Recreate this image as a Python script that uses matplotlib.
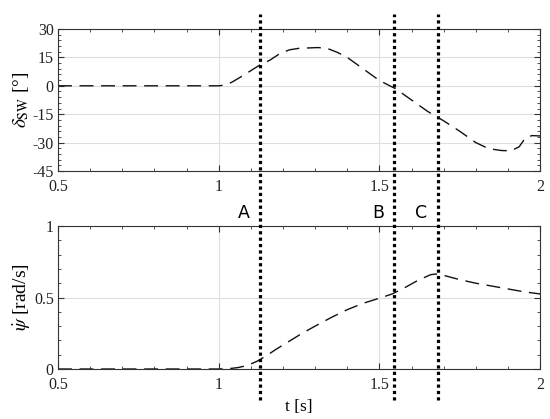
import matplotlib.pyplot as plt
import numpy as np
from matplotlib.ticker import MultipleLocator

# steering wheel angle [deg]
t_sw = [0.5, 1.0, 1.02, 1.04, 1.07, 1.10, 1.13, 1.16, 1.19, 1.22, 1.25, 1.28, 1.31, 1.34,
        1.37, 1.40, 1.45, 1.50, 1.55, 1.60, 1.65, 1.70, 1.75, 1.80, 1.84, 1.88, 1.91,
        1.935, 1.955, 1.975, 2.0]
d_sw = [0, 0, 0.4, 1.8, 4.8, 8.0, 11.2, 13.6, 17.0, 19.0, 19.8, 20.0, 20.2, 19.6,
        17.6, 15.0, 8.9, 2.8, -1.5, -7.5, -13.5, -18.5, -24.0, -30.0, -33.2, -34.2, -34.3,
        -32.2, -27.4, -26.3, -26.5]

# yaw rate [rad/s]
t_yr = [0.5, 1.0, 1.03, 1.06, 1.09, 1.12, 1.15, 1.18, 1.22, 1.26, 1.30, 1.35, 1.40, 1.45,
        1.50, 1.54, 1.58, 1.62, 1.66, 1.68, 1.70, 1.75, 1.80, 1.85, 1.90, 1.95, 2.0]
yaw = [0, 0, 0.002, 0.01, 0.025, 0.055, 0.095, 0.14, 0.195, 0.25, 0.30, 0.36, 0.415, 0.46,
       0.495, 0.525, 0.57, 0.62, 0.66, 0.665, 0.655, 0.625, 0.60, 0.58, 0.56, 0.54, 0.525]

events = [1.130, 1.547, 1.683]
event_names = ['A', 'B', 'C']

plt.rcParams['font.family'] = ['Liberation Serif', 'DejaVu Serif']
plt.rcParams['mathtext.fontset'] = 'stix'

fig = plt.figure(figsize=(5.5, 4.19), dpi=100)
ax1 = fig.add_axes([0.1055, 0.5919, 0.8764, 0.3389])
ax2 = fig.add_axes([0.1055, 0.1193, 0.8764, 0.3413])

dash = (0, (10, 5.5))
ax1.plot(t_sw, d_sw, color='#111111', lw=1, linestyle=dash)
ax2.plot(t_yr, yaw, color='#111111', lw=1, linestyle=dash)

ax1.set_ylim(-45, 30)
ax1.yaxis.set_major_locator(MultipleLocator(15))
ax1.yaxis.set_minor_locator(MultipleLocator(3))
ax2.set_ylim(0, 1)
ax2.yaxis.set_major_locator(MultipleLocator(0.5))
ax2.yaxis.set_minor_locator(MultipleLocator(0.1))

for ax in (ax1, ax2):
    ax.set_xlim(0.5, 2)
    ax.xaxis.set_major_locator(MultipleLocator(0.5))
    ax.xaxis.set_minor_locator(MultipleLocator(0.1))
    ax.xaxis.set_major_formatter(plt.FuncFormatter(lambda v, p: f'{v:g}'))
    ax.yaxis.set_major_formatter(plt.FuncFormatter(lambda v, p: f'{v:g}'))
    ax.grid(True, which='major', color='#dddddd', lw=0.8)
    ax.set_axisbelow(True)
    ax.tick_params(which='both', direction='in', top=True, right=True,
                   labelsize=11.5, color='#333333', labelcolor='#222222')
    ax.tick_params(which='major', length=4)
    ax.tick_params(which='minor', length=2.5)
    ax.tick_params(axis='x', pad=6)
    ax.tick_params(axis='y', pad=3)
    for s in ax.spines.values():
        s.set_color('#333333')
        s.set_linewidth(0.8)

ax1.set_ylabel(r'$\delta_{\rm SW}$ [°]', fontsize=14, labelpad=1)
ax2.set_ylabel(r'$\dot{\psi}$ [rad/s]', fontsize=14, labelpad=1)
ax2.set_xlabel('t [s]', fontsize=12.5, labelpad=4)

# vertical event markers spanning both panels
for te, name in zip(events, event_names):
    ax2.axvline(te, ymin=-0.217, ymax=2.483, color='k', lw=2.3,
                linestyle=(0, (1, 1)), clip_on=False, zorder=5)
    ax2.text(te - 0.033, 1.03, name, transform=ax2.get_xaxis_transform(),
             ha='right', va='bottom', fontsize=12.5, family='DejaVu Sans')

fig.savefig('out.png', dpi=100)
